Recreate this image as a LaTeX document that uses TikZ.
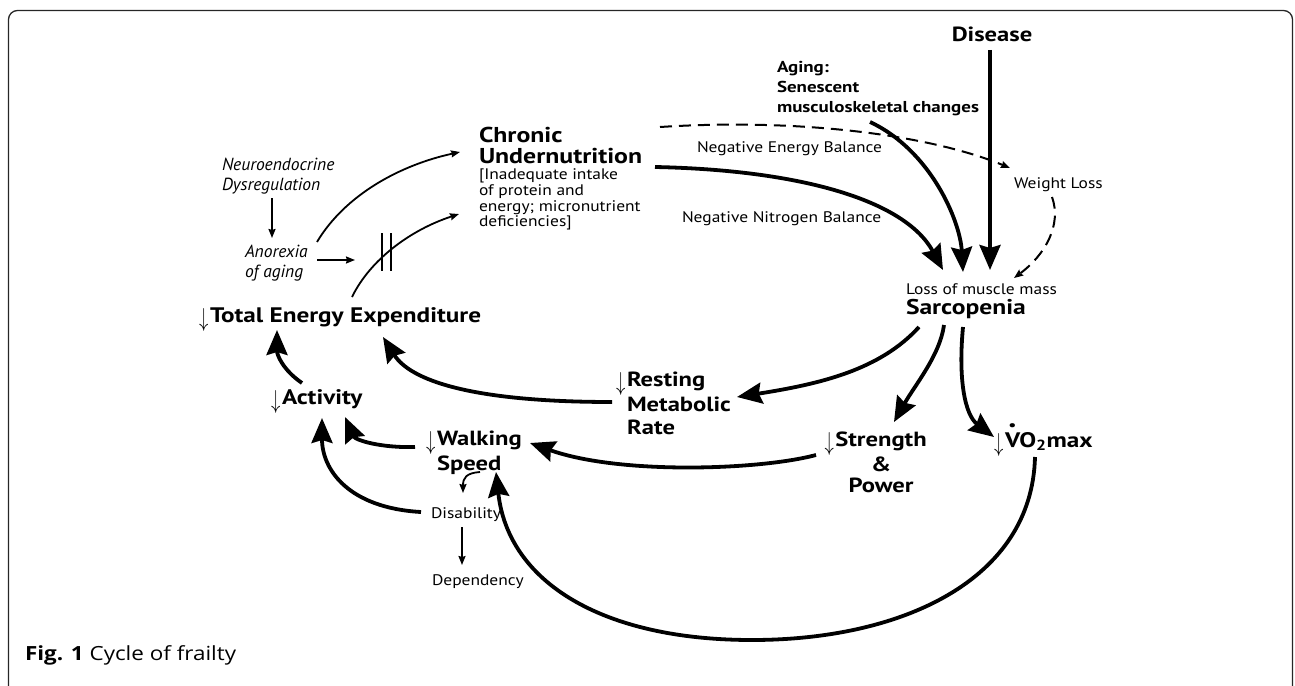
\documentclass[tikz,border=0pt]{standalone}
\usepackage{fontspec}
\usepackage{graphicx}
\setmainfont{PT Sans}[FakeStretch=1.14]
\newfontfamily\bfam{PT Sans}[FakeStretch=1.2]
\newfontfamily\itfam{PT Sans}
\newfontfamily\capfont{Open Sans}[FakeStretch=1.15]
\usetikzlibrary{arrows.meta,calc}
\newcommand\fsz[2]{\fontsize{#1}{#2}\selectfont}
\newcommand\dnar{\llap{\raisebox{-0.2em}{\scalebox{0.9}[1.25]{$\downarrow$}}\kern1.5pt}}
\begin{document}
\begin{tikzpicture}[x=1pt,y=-1pt,
  lbl/.style={inner sep=0pt, outer sep=0pt},
  tl/.style={lbl, anchor=north west, align=left},
  bl/.style={lbl, anchor=base west},
  bigarrow/.style={line width=3.8pt, -{Stealth[length=25pt,width=21pt,inset=3pt]}},
  thinarrow/.style={line width=1.8pt, -{Stealth[length=9pt,width=7pt,inset=1pt]}},
  dasharrow/.style={line width=2pt, dash pattern=on 12pt off 7pt, -{Stealth[length=9pt,width=7pt,inset=1pt]}},
  smalltxt/.style={font=\fsz{15.3}{16}},
]
\useasboundingbox (0,0) rectangle (1295,685);
% frame
\draw[line width=1.3pt, rounded corners=9pt, black!85] (8.5,720) -- (8.5,10.5) -- (1292.5,10.5) -- (1292.5,720);

% nodes
\node[lbl, anchor=base, font=\bfam\bfseries\fsz{20.5}{24}] (disease) at (992,42) {Disease};
\node[tl, font=\bfam\bfseries\fsz{15.8}{20}] (aging) at (777,61) {Aging:\\Senescent\\musculoskeletal changes};
\node[tl, font=\bfam\bfseries\fsz{21.5}{21}] (chronic) at (479,127) {Chronic\\Undernutrition};
\node[tl, font=\fsz{15.3}{15.7}] (chronicsub) at (479,169) {[Inadequate intake\\of protein and\\energy; micronutrient\\deficiencies]};
\node[tl, font=\itfam\itshape\fsz{17.5}{20}] (neuro) at (222,158) {Neuroendocrine\\Dysregulation};
\node[tl, font=\itfam\itshape\fsz{17.5}{20}] (anorexia) at (245,245) {Anorexia\\of aging};
\node[bl, font=\bfam\bfseries\fsz{21}{24}] (tee) at (210,322) {\dnar Total Energy Expenditure};
\node[bl, font=\bfam\bfseries\fsz{21}{24}] (activity) at (282,404) {\dnar Activity};
\node[tl, font=\bfam\bfseries\fsz{20.5}{23}] (resting) at (627,372) {\dnar Resting\\Metabolic\\Rate};
\node[tl, font=\bfam\bfseries\fsz{20.5}{20}] (walking) at (437,431) {\dnar Walking\\Speed};
\node[lbl, anchor=north, align=center, font=\bfam\bfseries\fsz{20.5}{21}] (strength) at (881,432) {\dnar Strength\\\&\\Power};
\node[bl, font=\bfam\bfseries\fsz{21}{24}] (vo2) at (1005,447) {\dnar\makebox[0pt][l]{\kern0.16em\raisebox{0.92em}{\scalebox{1.3}{.}}}VO\textsubscript{2}max};
\node[bl, smalltxt] (loss) at (906,294) {Loss of muscle mass};
\node[bl, font=\bfam\bfseries\fsz{21.3}{24}] (sarc) at (906,314) {Sarcopenia};
\node[bl, smalltxt] (weight) at (1014,188) {Weight Loss};
\node[bl, smalltxt] (nege) at (697,152) {Negative Energy Balance};
\node[bl, smalltxt] (negn) at (682,222) {Negative Nitrogen Balance};
\node[bl, smalltxt] (disability) at (431,518) {Disability};
\node[bl, smalltxt] (dependency) at (432,585) {Dependency};
\node[bl, font=\capfont\fsz{19.5}{22}] (caption) at (25,660) {\textbf{Fig. 1} Cycle of frailty};

% double bar
\coordinate (bars) at (386.5,252);
\draw[line width=2pt] ($(bars)+(-4.5,-19)$) -- ($(bars)+(-4.5,19)$);
\draw[line width=2pt] ($(bars)+(4.5,-19)$) -- ($(bars)+(4.5,19)$);

% thin connectors
\draw[thinarrow] ($(neuro.north west)+(50,40)$) -- ($(anorexia.north west)+(27,-7)$);
\draw[thinarrow] ($(anorexia.north west)+(72,-3)$) .. controls +(28,-47) and +(-60,13) .. ($(chronic.north west)+(-19,25)$);
\draw[thinarrow] ($(anorexia.north west)+(72,15)$) -- ($(bars)+(-31.5,8)$);
\draw[thinarrow] ($(tee.base west)+(142,-25)$) .. controls +(18,-37) and +(-49,16) .. ($(chronic.north west)+(-20,87)$);
\draw[thinarrow] ($(walking.north west)+(43,41)$) .. controls +(-14,1) and +(0,-15) .. ($(disability.base west)+(32,-25)$);
\draw[thinarrow] ($(disability.base west)+(31,9)$) -- ($(dependency.base west)+(30,-20)$);

% dashed
\draw[dasharrow] ($(chronic.north west)+(181,0)$) .. controls +(140,-9) and +(-80,-33) .. ($(weight.base west)+(-4,-20)$);
\draw[dasharrow] ($(weight.base west)+(38,9)$) .. controls +(10,28) and +(31,-23) .. ($(loss.base west)+(108,-16)$);

% big connectors
\draw[bigarrow] ($(chronic.north west)+(176,40)$) .. controls +(145,3) and +(-38,-70) .. ($(loss.base west)+(37,-24)$);
\draw[bigarrow] ($(aging.north west)+(93,61)$) .. controls +(60,28) and +(-3,-52) .. ($(loss.base west)+(57,-22)$);
\draw[bigarrow] ($(disease.base)+(-2,8)$) -- ($(loss.base west)+(84,-24)$);
\draw[bigarrow] ($(sarc.base west)+(13,13)$) .. controls +(-39,43) and +(83,-13) .. ($(resting.north west)+(110,25)$);
\draw[bigarrow] ($(sarc.base west)+(38,11)$) .. controls +(-4,30) and +(21,-37) .. ($(strength.north)+(13,-10)$);
\draw[bigarrow] ($(sarc.base west)+(57,13)$) .. controls +(-5,53) and +(-29,-22) .. ($(vo2.base west)+(-11,-10)$);
\draw[bigarrow] ($(resting.north west)+(-15,30)$) .. controls +(-142,0) and +(27,43) .. ($(tee.base west)+(173,15)$);
\draw[bigarrow] ($(activity.base west)+(20,-21)$) .. controls +(-19,-13) and +(0,25) .. ($(tee.base west)+(67,8)$);
\draw[bigarrow] ($(walking.north west)+(-22,16)$) .. controls +(-35,1) and +(10,23) .. ($(activity.base west)+(63,13)$);
\draw[bigarrow] ($(disability.base west)+(-10,-6)$) .. controls +(-72,-4) and +(0,52) .. ($(activity.base west)+(40,14)$);
\draw[bigarrow] ($(strength.north)+(-65,23)$) .. controls +(-56,15) and +(90,32) .. ($(walking.north west)+(93,12)$);
\draw[bigarrow] ($(vo2.base west)+(30,10)$) .. controls +(-3,123) and +(150,0) .. (752,640) .. controls +(-150,0) and +(12,110) .. ($(walking.north west)+(59,41)$);
\end{tikzpicture}
\end{document}
